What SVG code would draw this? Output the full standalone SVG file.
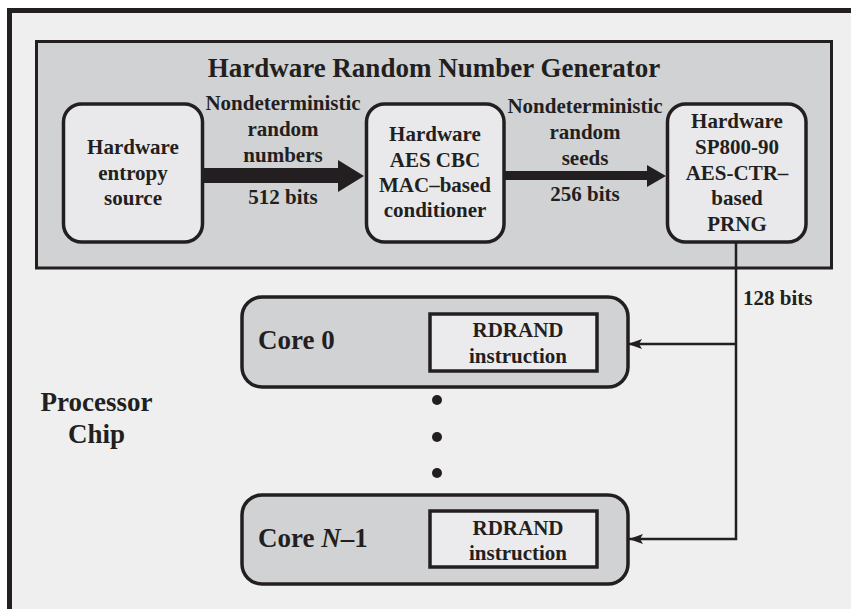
<svg xmlns="http://www.w3.org/2000/svg" width="851" height="609" viewBox="0 0 851 609">
<style>
text{font-family:"Liberation Serif","Times New Roman",serif;font-weight:bold;fill:#231f20;}
.t21{font-size:21px;text-anchor:middle;}
.t27{font-size:27px;}
.start{text-anchor:start;}
.mid{text-anchor:middle;}
.node{fill:#e9e9eb;stroke:#231f20;stroke-width:3.5;}
.core{fill:#d1d2d4;stroke:#231f20;stroke-width:3.5;}
.inst{fill:#ebebed;stroke:#231f20;stroke-width:3.5;}
.wire{fill:none;stroke:#231f20;stroke-width:2.5;}
</style>
<defs>
<marker id="ah" markerWidth="16" markerHeight="12" refX="14" refY="5" orient="auto" markerUnits="userSpaceOnUse">
<path d="M14,5 L0,0 L3,5 L0,10 Z" fill="#231f20"/>
</marker>
</defs>
<rect x="0" y="0" width="851" height="609" fill="#ffffff"/>
<g id="chip">
<rect x="9" y="10.5" width="842" height="599" fill="#efefef"/>
<path d="M9.5,609 V10.5 H851" fill="none" stroke="#231f20" stroke-width="5"/>
<text class="t27 mid" x="96.5" y="411">Processor</text>
<text class="t27 mid" x="96.5" y="443">Chip</text>
</g>
<g id="hrng">
<rect x="36.5" y="41.5" width="795" height="226.5" fill="#d1d2d4" stroke="#231f20" stroke-width="3"/>
<text class="t27 mid" x="434" y="77">Hardware Random Number Generator</text>
</g>
<g id="entropy">
<rect class="node" x="63.5" y="104" width="139" height="138" rx="18"/>
<text class="t21" x="133" y="154">Hardware</text>
<text class="t21" x="133" y="180">entropy</text>
<text class="t21" x="133" y="205">source</text>
</g>
<g id="conditioner">
<rect class="node" x="366.5" y="104" width="137.5" height="138" rx="18"/>
<text class="t21" x="435" y="141">Hardware</text>
<text class="t21" x="435" y="167">AES CBC</text>
<text class="t21" x="435" y="192">MAC–based</text>
<text class="t21" x="435" y="217">conditioner</text>
</g>
<g id="prng">
<rect class="node" x="667.5" y="104" width="138.5" height="138" rx="18"/>
<text class="t21" x="737" y="128">Hardware</text>
<text class="t21" x="737" y="154">SP800-90</text>
<text class="t21" x="737" y="180">AES-CTR–</text>
<text class="t21" x="737" y="205">based</text>
<text class="t21" x="737" y="231">PRNG</text>
</g>
<g id="core0">
<rect class="core" x="242" y="297" width="386" height="90" rx="20"/>
<text class="t27" x="258" y="349">Core 0</text>
<rect class="inst" x="430" y="314" width="167" height="57"/>
<text class="t21" x="518" y="337">RDRAND</text>
<text class="t21" x="518" y="363">instruction</text>
</g>
<g id="dots" fill="#231f20">
<circle cx="437" cy="400" r="5"/>
<circle cx="437" cy="437" r="5"/>
<circle cx="437" cy="473" r="5"/>
</g>
<g id="coreN">
<rect class="core" x="242" y="495" width="386" height="89" rx="20"/>
<text class="t27" x="258" y="547">Core <tspan font-style="italic">N</tspan>–1</text>
<rect class="inst" x="430" y="511" width="167" height="56"/>
<text class="t21" x="518" y="535">RDRAND</text>
<text class="t21" x="518" y="560">instruction</text>
</g>
<g id="connectors">
<path d="M202,168 H338 V160 L364,176 L338,192 V183 H202 Z" fill="#231f20"/>
<path d="M504,171 H647 V165 L666,176 L647,187 V180 H504 Z" fill="#231f20"/>
<path class="wire" d="M736,242 V539 H629" marker-end="url(#ah)"/>
<path class="wire" d="M736,344 H628" marker-end="url(#ah)"/>
<text class="t21" x="283" y="110">Nondeterministic</text>
<text class="t21" x="283" y="136">random</text>
<text class="t21" x="283" y="162">numbers</text>
<text class="t21" x="283" y="204">512 bits</text>
<text class="t21" x="585" y="113">Nondeterministic</text>
<text class="t21" x="585" y="139">random</text>
<text class="t21" x="585" y="165">seeds</text>
<text class="t21" x="585" y="201">256 bits</text>
<text class="t21 start" x="743" y="305">128 bits</text>
</g>
</svg>
